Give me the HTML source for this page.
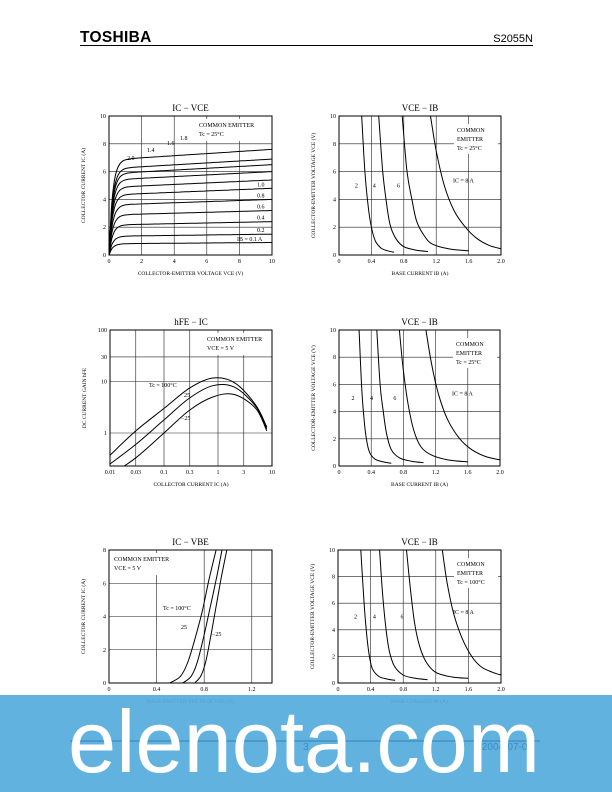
<!DOCTYPE html>
<html><head><meta charset="utf-8">
<style>
html,body{margin:0;padding:0;background:#fff;}
svg{display:block;}
text{font-family:"Liberation Serif",serif;fill:#000;}
</style></head>
<body>
<svg id="page" width="612" height="792" viewBox="0 0 612 792" xmlns="http://www.w3.org/2000/svg">
<text x="80" y="42" style="font-family:'Liberation Sans',sans-serif;font-weight:bold;font-size:15.5px;letter-spacing:0.3px">TOSHIBA</text>
<text x="533" y="42" text-anchor="end" style="font-family:'Liberation Sans',sans-serif;font-size:11px">S2055N</text>
<line x1="80" y1="45.5" x2="533" y2="45.5" stroke="#000" stroke-width="1"/>
<g id="charts"></g>
<g id="banner">
<rect x="0" y="695" width="612" height="97" fill="#55acdd" fill-opacity="0.93"/>
<line x1="70" y1="741" x2="540" y2="741" stroke="#3b8cc2" stroke-width="1.2"/>
<text x="303" y="750" style="font-family:'Liberation Sans',sans-serif;font-size:10px;fill:#3b8cc2">3</text>
<text x="533" y="750" text-anchor="end" style="font-family:'Liberation Sans',sans-serif;font-size:10px;fill:#3b8cc2">2004-07-07</text>
<text x="68" y="772" textLength="472" lengthAdjust="spacingAndGlyphs" style="font-family:'Liberation Sans',sans-serif;font-size:88px;fill:#fff">elenota.com</text>
</g>
</svg>
<script>
// ---------- Chart 1: IC - VCE ----------
const c1XTicks=[0,2,4,6,8,10];
const c1YTicks=[0,2,4,6,8,10];
const c1IbLabels=["2.0","1.8","1.6","1.4","1.2","1.0","0.8","0.6","0.4","0.2","0.1"];
const c1SatIc=[7.6,6.9,6.5,6.0,5.4,4.8,4.0,3.2,2.4,1.5,0.9];
// ---------- Chart 2: VCE - IB (25C) ----------
const c2XTicks=[0,0.4,0.8,1.2,1.6,2.0];
const c2YTicks=[0,2,4,6,8,10];
const c2Curves=[
 [[0.28,10],[0.32,6],[0.36,3.5],[0.40,2],[0.45,1],[0.52,0.5],[0.6,0.3],[0.68,0.2]],
 [[0.49,10],[0.54,6],[0.58,4],[0.63,2.2],[0.70,1.2],[0.8,0.6],[0.95,0.35],[1.1,0.25]],
 [[0.78,10],[0.84,6],[0.90,4],[0.96,2.4],[1.05,1.4],[1.15,0.8],[1.35,0.45],[1.6,0.3]],
 [[1.13,10],[1.2,7.5],[1.3,5],[1.42,3.2],[1.56,2],[1.7,1.2],[1.85,0.7],[2.0,0.45]]];
// ---------- Chart 3: hFE - IC ----------
const c3XTicks=[0.01,0.03,0.1,0.3,1,3,10];
const c3XTickLabels=["0.01","0.03","0.1","0.3","1","3","10"];
const c3YTicks=[1,10,30,100];
const c3Ic=[0.01,0.03,0.1,0.3,0.8,2,5,8];
const c3Hfe100=[0.37,1.1,3.0,7.5,11.7,9.5,3.5,1.3];
const c3Hfe25=[0.25,0.6,1.8,4.8,8.3,7.8,3.3,1.2];
const c3HfeM25=[0.15,0.33,1.0,2.8,5.0,5.6,3.0,1.1];
// ---------- Chart 4: VCE - IB ----------
const c4XTicks=[0,0.4,0.8,1.2,1.6,2.0];
const c4YTicks=[0,2,4,6,8,10];
const c4Curves=[
 [[0.25,10],[0.28,6],[0.31,3.5],[0.34,2],[0.38,1],[0.45,0.5],[0.55,0.3],[0.65,0.2]],
 [[0.47,10],[0.51,6],[0.55,4],[0.59,2.4],[0.65,1.2],[0.75,0.6],[0.9,0.35],[1.05,0.25]],
 [[0.75,10],[0.8,7],[0.86,4.5],[0.93,2.6],[1.02,1.4],[1.15,0.8],[1.35,0.45],[1.6,0.3]],
 [[1.08,10],[1.15,7.5],[1.24,5.2],[1.35,3.4],[1.5,2],[1.65,1.2],[1.82,0.7],[2.0,0.45]]];
// ---------- Chart 5: IC - VBE ----------
const c5XTicks=[0,0.4,0.8,1.2];
const c5YTicks=[0,2,4,6,8];
const c5Vbe100=[0.51,0.6,0.66,0.72,0.78,0.84,0.9];
const c5Ic100=[0,0.4,1.2,2.6,4.2,6.2,8];
const c5Vbe25=[0.62,0.69,0.74,0.79,0.84,0.9,0.95];
const c5Ic25=[0,0.4,1.2,2.6,4.2,6.2,8];
const c5VbeM25=[0.72,0.77,0.81,0.85,0.89,0.94,0.99];
const c5IcM25=[0,0.4,1.2,2.6,4.2,6.2,8];
// ---------- Chart 6: VCE - IB (100C) ----------
const c6XTicks=[0,0.4,0.8,1.2,1.6,2.0];
const c6YTicks=[0,2,4,6,8,10];
const c6Curves=[
 [[0.28,10],[0.32,6],[0.35,3.8],[0.38,2.2],[0.42,1.1],[0.5,0.5],[0.6,0.3],[0.7,0.2]],
 [[0.51,10],[0.55,6.5],[0.59,4],[0.63,2.4],[0.69,1.3],[0.8,0.6],[0.95,0.35],[1.1,0.25]],
 [[0.84,10],[0.89,7],[0.94,4.5],[1.0,2.8],[1.08,1.6],[1.2,0.8],[1.4,0.45],[1.6,0.35]],
 [[1.28,10],[1.34,7.5],[1.42,5.2],[1.52,3.4],[1.64,2],[1.76,1.2],[1.9,0.8],[2.0,0.6]]];

const NS="http://www.w3.org/2000/svg";
const root=document.getElementById('charts');
function mk(tag,attrs,parent){const e=document.createElementNS(NS,tag);for(const k in attrs)e.setAttribute(k,attrs[k]);(parent||root).appendChild(e);return e;}
function linScale(d0,d1,r0,r1){return v=>r0+(v-d0)*(r1-r0)/(d1-d0);}
function logScale(d0,d1,r0,r1){return v=>r0+(Math.log10(v)-Math.log10(d0))*(r1-r0)/(Math.log10(d1)-Math.log10(d0));}
function pathFrom(pts,sx,sy){
 const P=pts.map(p=>[sx(p[0]),sy(p[1])]);
 let d='M'+P[0][0].toFixed(1)+','+P[0][1].toFixed(1);
 for(let i=0;i<P.length-1;i++){
  const p0=P[Math.max(i-1,0)],p1=P[i],p2=P[i+1],p3=P[Math.min(i+2,P.length-1)];
  const c1=[p1[0]+(p2[0]-p0[0])/6,p1[1]+(p2[1]-p0[1])/6],c2=[p2[0]-(p3[0]-p1[0])/6,p2[1]-(p3[1]-p1[1])/6];
  d+='C'+c1[0].toFixed(1)+','+c1[1].toFixed(1)+' '+c2[0].toFixed(1)+','+c2[1].toFixed(1)+' '+p2[0].toFixed(1)+','+p2[1].toFixed(1);
 }
 return d;
}

function frame(name,box,sx,sy,xt,xl,yt,yl,title,xlab,ylab){
 const g=mk('g',{});
 
 
 xt.forEach((t,i)=>{
  const l=mk('line',{x1:sx(t),x2:sx(t),y1:box.t,y2:box.b,stroke:'#222','stroke-width':0.6},g);
  
  
  const tx=mk('text',{x:sx(t),y:box.b+8,'text-anchor':'middle','font-size':6},g);
  
  
  tx.textContent=xl[i];
 });
 yt.forEach((t,i)=>{
  const l=mk('line',{x1:box.l,x2:box.r,y1:sy(t),y2:sy(t),stroke:'#222','stroke-width':0.6},g);
  
  
  const tx=mk('text',{x:box.l-3,y:sy(t)+2,'text-anchor':'end','font-size':6},g);
  
  
  tx.textContent=yl[i];
 });
 const r=mk('rect',{x:box.l,y:box.t,width:box.r-box.l,height:box.b-box.t,fill:'none',stroke:'#000','stroke-width':1},g);
 
 
 const ti=mk('text',{x:(box.l+box.r)/2,y:box.t-5,'text-anchor':'middle','font-size':9},g);
 
 
 ti.textContent=title;
 const xa=mk('text',{x:(box.l+box.r)/2,y:box.b+20,'text-anchor':'middle','font-size':5.5},g);
 
 
 xa.textContent=xlab;
 const cx=box.l-24,cy=(box.t+box.b)/2;
 const ya=mk('text',{x:cx,y:cy,'text-anchor':'middle','font-size':5.5,transform:'rotate(-90 '+cx+' '+cy+')'},g);
 
 
 ya.textContent=ylab;
 return g;
}
function label(g,x,y,t,size,name){const e=mk('text',{x:x,y:y,'font-size':size||6},g);e.textContent=t;return e;}
function curve(g,d,name){const p=mk('path',{d:d,fill:'none',stroke:'#000','stroke-width':1},g);return p;}
function infoBox(g,x,y,w,h,lines,name){const r=mk('rect',{x:x,y:y,width:w,height:h,fill:'#fff',stroke:'none'},g);lines.forEach((t,i)=>label(g,x+3,y+8+i*9,t,6,'condition-text'));}

// Chart 1
(function(){
 const box={l:109,r:272,t:116,b:255};
 const sx=linScale(0,10,box.l,box.r),sy=linScale(0,10,box.b,box.t);
 const g=frame('chart-ic-vce',box,sx,sy,c1XTicks,c1XTicks.map(String),c1YTicks,c1YTicks.map(String),'IC − VCE','COLLECTOR-EMITTER VOLTAGE  VCE  (V)','COLLECTOR CURRENT  IC  (A)');
 infoBox(g,196,119,74,22,['COMMON EMITTER','Tc = 25°C'],'condition-box');
 c1SatIc.forEach((s,i)=>{
  const pts=[];for(let k=0;k<=60;k++){const v=k/6;pts.push([v,s*(1-Math.exp(-v/0.22))*(0.9+0.01*v)]);}
  curve(g,pathFrom(pts,sx,sy),'ib-curve-'+c1IbLabels[i]);
 });
 label(g,127,160,'2.0');label(g,147,152,'1.4');label(g,167,145,'1.6');label(g,180,140,'1.8');
 [4.8,4.0,3.2,2.4,1.5].forEach((v,i)=>label(g,257,sy(v)+(-2),["1.0","0.8","0.6","0.4","0.2"][i]));
 label(g,237,241,'IB = 0.1 A');
})();
function vceIb(name,box,xt,yt,curves,title,cond,icLabel,labs){
 const sx=linScale(0,2,box.l,box.r),sy=linScale(0,10,box.b,box.t);
 const g=frame(name,box,sx,sy,xt,xt.map(v=>v===0?'0':v.toFixed(1)),yt,yt.map(String),title,'BASE CURRENT  IB  (A)','COLLECTOR-EMITTER VOLTAGE  VCE  (V)');
 infoBox(g,box.r-47,box.t+8,44,30,cond,'condition-box');
 curves.forEach((c,i)=>curve(g,pathFrom(c,sx,sy),'ic-curve-'+(i+1)));
 labs.forEach((t,i)=>{const c=curves[i];label(g,sx(c[1][0])-10,sy(5)+2,t);});
 label(g,box.r-48,sy(5.2),icLabel);
}
vceIb('chart-vce-ib-25c',{l:339,r:501,t:116,b:255},c2XTicks,c2YTicks,c2Curves,'VCE − IB',['COMMON','EMITTER','Tc = 25°C'],'IC = 8 A',['2','4','6']);
// Chart 3
(function(){
 const box={l:110,r:272,t:330,b:466};
 const sx=logScale(0.01,10,box.l,box.r),sy=logScale(1,100,433,330);
 const g=frame('chart-hfe-ic',box,sx,sy,c3XTicks,c3XTickLabels,c3YTicks,c3YTicks.map(String),'hFE − IC','COLLECTOR CURRENT  IC  (A)','DC CURRENT GAIN  hFE');
 infoBox(g,204,333,66,22,['COMMON EMITTER','VCE = 5 V'],'condition-box');
 const clip=mk('clipPath',{id:'c3clip'});mk('rect',{x:box.l,y:box.t,width:box.r-box.l,height:box.b-box.t},clip);
 const cg=mk('g',{'clip-path':'url(#c3clip)'},g);
 
 
 [[c3Hfe100,'tc-100'],[c3Hfe25,'tc-25'],[c3HfeM25,'tc-minus-25']].forEach(([h,n])=>curve(cg,pathFrom(c3Ic.map((x,i)=>[x,h[i]]),sx,sy),'hfe-curve-'+n));
 label(g,149,387,'Tc = 100°C');label(g,184,397,'25');label(g,181,420,'−25');
})();
vceIb('chart-vce-ib-b',{l:339,r:500,t:330,b:466},c4XTicks,c4YTicks,c4Curves,'VCE − IB',['COMMON','EMITTER','Tc = 25°C'],'IC = 8 A',['2','4','6']);
// Chart 5
(function(){
 const box={l:109,r:272,t:550,b:683};
 const sx=linScale(0,1.37,box.l,box.r),sy=linScale(0,8,box.b,box.t);
 const g=frame('chart-ic-vbe',box,sx,sy,c5XTicks,c5XTicks.map(v=>v===0?'0':v.toFixed(1)),c5YTicks,c5YTicks.map(String),'IC − VBE','BASE-EMITTER VOLTAGE  VBE  (V)','COLLECTOR CURRENT  IC  (A)');
 infoBox(g,111,553,70,22,['COMMON EMITTER','VCE = 5 V'],'condition-box');
 [[c5Vbe100,c5Ic100,'tc-100'],[c5Vbe25,c5Ic25,'tc-25'],[c5VbeM25,c5IcM25,'tc-minus-25']].forEach(([xs,ys,n])=>curve(g,pathFrom(xs.map((x,i)=>[x,ys[i]]),sx,sy),'ic-vbe-curve-'+n));
 label(g,163,610,'Tc = 100°C');label(g,181,629,'25');label(g,212,636,'−25');
})();
vceIb('chart-vce-ib-100c',{l:338,r:501,t:550,b:683},c6XTicks,c6YTicks,c6Curves,'VCE − IB',['COMMON','EMITTER','Tc = 100°C'],'IC = 8 A',['2','4','6']);
</script>
</body></html>
